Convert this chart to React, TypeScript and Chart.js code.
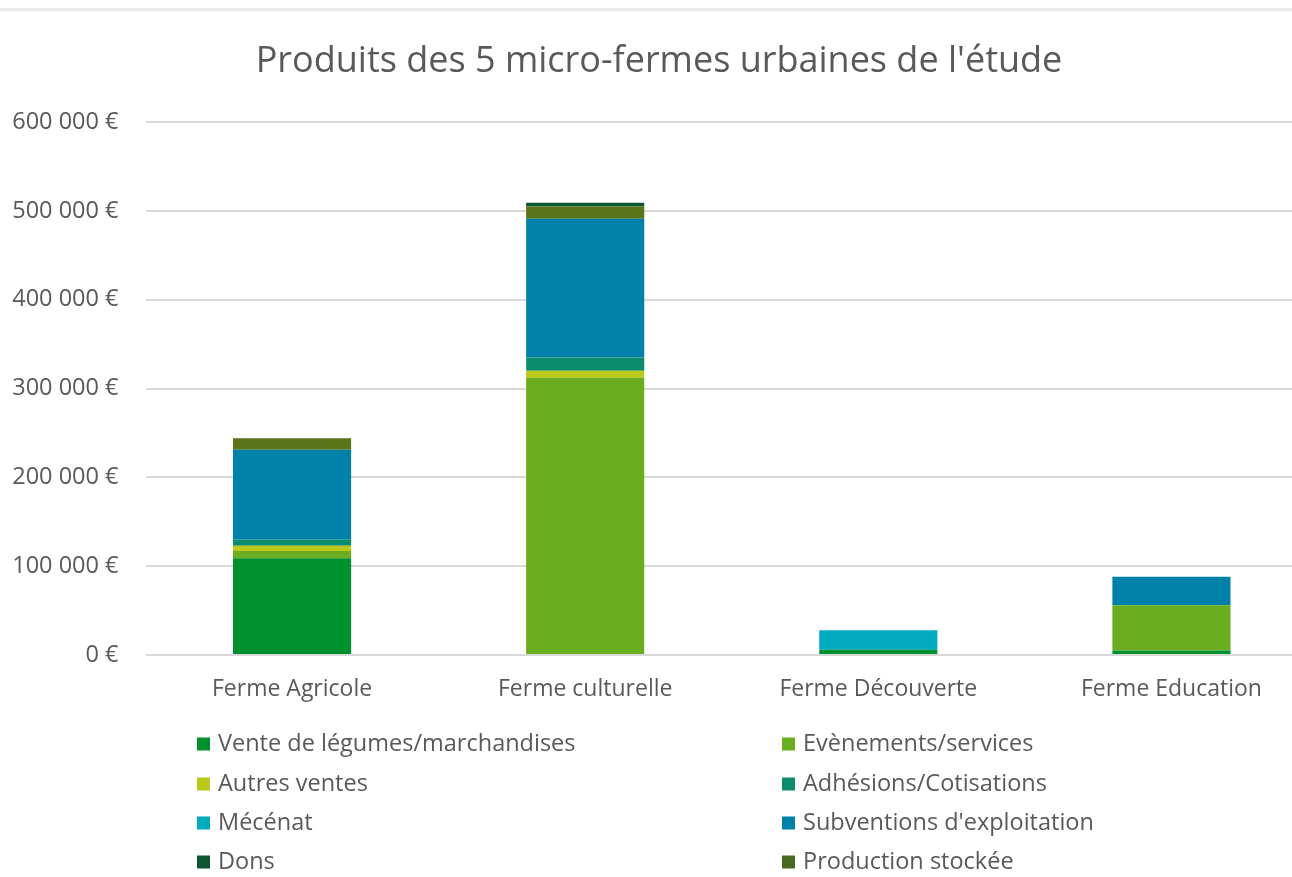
import React, { useEffect, useRef } from "react";
import { Chart, registerables } from "chart.js";

Chart.register(...registerables);

const titleText = "Produits des 5 micro-fermes urbaines de l'étude";
const categories = ["Ferme Agricole", "Ferme culturelle", "Ferme Découverte", "Ferme Education"];

const venteLegumes = [109000, 0, 6000, 5000];
const evenements = [8000, 312000, 0, 51000];
const autresVentes = [6000, 8000, 0, 0];
const adhesions = [7000, 15000, 0, 0];
const mecenat = [0, 0, 22000, 0];
const subventions = [101000, 156000, 0, 32000];
const productionStockee = [13000, 14000, 0, 0];
const dons = [0, 4000, 0, 0];

const yMax = 600000;
const yStep = 100000;

// stacking order (bottom -> top)
const seriesNames = [
  "Vente de légumes/marchandises",
  "Evènements/services",
  "Autres ventes",
  "Adhésions/Cotisations",
  "Mécénat",
  "Subventions d'exploitation",
  "Production stockée",
  "Dons",
];
const seriesValues = [venteLegumes, evenements, autresVentes, adhesions, mecenat, subventions, productionStockee, dons];
const seriesColors = ["#00912f", "#6aad1e", "#bcc81a", "#0b8c6c", "#00aabf", "#0081aa", "#5a7419", "#0b5530"];
const legendColors = ["#00912f", "#6aad1e", "#bcc81a", "#0b8c6c", "#00aabf", "#0081aa", "#466b1e", "#0b5530"];
// legend order (row-wise, 2 columns)
const legendOrder = [0, 1, 2, 3, 4, 5, 7, 6];

const FONT = "'Open Sans', sans-serif";
const TEXT = "#595959";

const fmt = (v: number) => String(v).replace(/\B(?=(\d{3})+(?!\d))/g, " ") + " €";

const extrasPlugin = {
  id: "extras",
  beforeDraw(chart: any) {
    const ctx = chart.ctx;
    ctx.save();
    ctx.fillStyle = "#ffffff";
    ctx.fillRect(0, 0, chart.width, chart.height);
    ctx.fillStyle = "#ebebeb";
    ctx.fillRect(0, 8, chart.width, 3);
    ctx.restore();
  },
  afterDraw(chart: any) {
    const ctx = chart.ctx;
    ctx.save();
    ctx.font = `23.5px ${FONT}`;
    ctx.textBaseline = "middle";
    ctx.textAlign = "left";
    const colX = [197, 782];
    const rowY = [744, 784, 823, 862];
    legendOrder.forEach((di, i) => {
      const col = i % 2;
      const row = Math.floor(i / 2);
      const x = colX[col];
      const y = rowY[row];
      ctx.fillStyle = legendColors[di];
      ctx.fillRect(x, y - 6.5, 13, 13);
      ctx.fillStyle = TEXT;
      ctx.fillText(seriesNames[di], x + 21, y);
    });
    ctx.restore();
  },
};

export default function App() {
  const ref = useRef<HTMLCanvasElement | null>(null);

  useEffect(() => {
    if (!ref.current) return;
    const chart = new Chart(ref.current, {
      type: "bar",
      data: {
        labels: categories,
        datasets: seriesNames.map((name, i) => ({
          label: name,
          data: seriesValues[i],
          backgroundColor: seriesColors[i],
          borderWidth: 0,
          categoryPercentage: 1,
          barPercentage: 0.403,
        })),
      },
      options: {
        responsive: false,
        animation: false,
        devicePixelRatio: 1,
        layout: { padding: { left: 0, right: 0, top: 0, bottom: 174 } },
        plugins: {
          legend: { display: false },
          tooltip: { enabled: false },
          title: {
            display: true,
            text: titleText,
            color: TEXT,
            font: { family: FONT, size: 36, weight: "normal" },
            padding: { top: 40.4, bottom: 38.4 },
          },
        },
        scales: {
          x: {
            stacked: true,
            grid: { display: false, drawTicks: false },
            border: { display: false },
            ticks: {
              color: TEXT,
              font: { family: FONT, size: 23 },
              padding: 21,
              maxRotation: 0,
            },
            afterFit: (s: any) => {
              s.height = 48;
            },
          },
          y: {
            stacked: true,
            min: 0,
            max: yMax,
            grid: { color: "#d9d9d9", lineWidth: 2, drawTicks: false },
            border: { display: false },
            ticks: {
              stepSize: yStep,
              color: TEXT,
              font: { family: FONT, size: 23.5 },
              padding: 27,
              callback: (v: any) => fmt(Number(v)),
            },
            afterFit: (s: any) => {
              s.width = 145.5;
            },
          },
        },
      },
      plugins: [extrasPlugin],
    });
    return () => chart.destroy();
  }, []);

  return (
    <div
      style={{
        position: "absolute",
        left: 0,
        top: 0,
        width: 1292,
        height: 877,
        overflow: "hidden",
        background: "#fff",
      }}
    >
      <canvas ref={ref} width={1318} height={877} style={{ display: "block" }} />
    </div>
  );
}
